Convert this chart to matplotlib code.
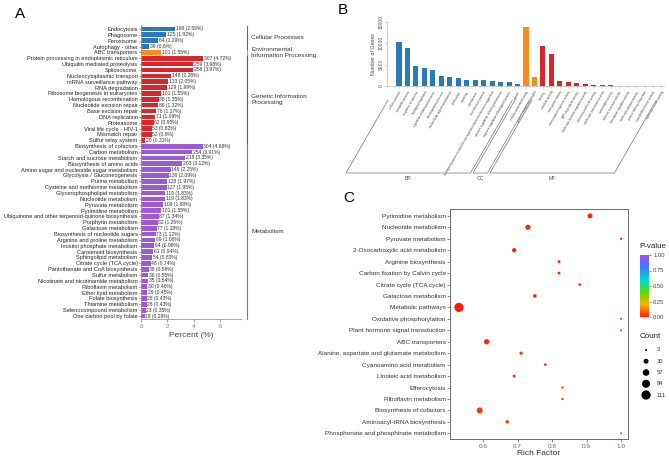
import numpy as np
import matplotlib
matplotlib.use("Agg")
import matplotlib.pyplot as plt
from matplotlib.colors import LinearSegmentedColormap, Normalize
from matplotlib.lines import Line2D

plt.rcParams['font.family'] = ['Liberation Sans', 'DejaVu Sans']

# ---------------- panel A data (KEGG classification) ----------------
kegg_terms = [
    "Endocytosis", "Phagosome", "Peroxisome", "Autophagy - other",
    "ABC transporters",
    "Protein processing in endoplasmic reticulum", "Ubiquitin mediated proteolysis",
    "Spliceosome", "Nucleocytoplasmic transport", "mRNA surveillance pathway",
    "RNA degradation", "Ribosome biogenesis in eukaryotes", "Homologous recombination",
    "Nucleotide excision repair", "Base excision repair", "DNA replication",
    "Proteasome", "Viral life cycle - HIV-1", "Mismatch repair", "Sulfur relay system",
    "Biosynthesis of cofactors", "Carbon metabolism", "Starch and sucrose metabolism",
    "Biosynthesis of amino acids", "Amino sugar and nucleotide sugar metabolism",
    "Glycolysis / Gluconeogenesis", "Purine metabolism",
    "Cysteine and methionine metabolism", "Glycerophospholipid metabolism",
    "Nucleotide metabolism", "Pyruvate metabolism", "Pyrimidine metabolism",
    "Ubiquinone and other terpenoid-quinone biosynthesis", "Porphyrin metabolism",
    "Galactose metabolism", "Biosynthesis of nucleotide sugars",
    "Arginine and proline metabolism", "Inositol phosphate metabolism",
    "Carotenoid biosynthesis", "Sphingolipid metabolism", "Citrate cycle (TCA cycle)",
    "Pantothenate and CoA biosynthesis", "Sulfur metabolism",
    "Nicotinate and nicotinamide metabolism", "Riboflavin metabolism",
    "Ether lipid metabolism", "Folate biosynthesis", "Thiamine metabolism",
    "Selenocompound metabolism", "One carbon pool by folate",
]
kegg_counts = [168, 125, 84, 39, 101, 307, 259, 258, 148, 133, 129, 101, 88, 86, 76,
               71, 62, 53, 52, 20, 304, 254, 218, 203, 146, 136, 128, 127, 119, 119,
               109, 101, 87, 82, 77, 73, 69, 64, 61, 54, 48, 38, 36, 35, 30, 29, 28,
               28, 23, 18]
kegg_pct = ["2.59", "1.92", "1.29", "0.6", "1.55", "4.72", "3.98", "3.97", "2.28",
            "2.05", "1.99", "1.55", "1.35", "1.32", "1.17", "1.09", "0.95", "0.82",
            "0.8", "0.31", "4.68", "3.91", "3.35", "3.12", "2.25", "2.09", "1.97",
            "1.95", "1.83", "1.83", "1.68", "1.55", "1.34", "1.26", "1.18", "1.12",
            "1.06", "0.98", "0.94", "0.83", "0.74", "0.58", "0.55", "0.54", "0.46",
            "0.45", "0.43", "0.43", "0.35", "0.28"]
kegg_classes = ["Cellular Processes", "Environmental\nInformation Processing",
                "Genetic Information\nProcessing", "Metabolism"]
class_sizes = [4, 1, 15, 30]
class_colors = ["#2a7ab9", "#ff8c1a", "#d9262b", "#9a5bd3"]

# ---------------- panel B data (GO classification) ----------------
go_terms = [
    "cellular process", "metabolic process", "response to stimulus",
    "biological regulation", "regulation of biological process",
    "developmental process", "multicellular organismal process", "localization",
    "signaling", "reproduction", "reproductive process",
    "biological process involved in interspecies interaction between organisms",
    "positive regulation of biological process",
    "negative regulation of biological process", "growth",
    "cellular anatomical entity", "protein-containing complex",
    "binding", "catalytic activity", "transporter activity",
    "transcription regulator activity", "ATP-dependent activity",
    "molecular function regulator activity", "structural molecule activity",
    "molecular transducer activity", "antioxidant activity",
    "nutrient reservoir activity", "translation regulator activity",
    "molecular adaptor activity", "protein folding chaperone",
    "cytoskeletal motor activity", "molecular carrier activity",
]
go_counts = [10400, 8900, 4770, 4140, 3830, 2340, 2030, 1950, 1480, 1330, 1330, 1250,
             1020, 940, 550,
             13750, 2190,
             9450, 7500, 1090, 940, 700, 470, 310, 230, 160, 100, 90, 60, 40, 30, 20]
go_groups = ["BP", "CC", "MF"]
go_group_sizes = [15, 2, 15]
go_colors = ["#2a7ab9", "#ff8c1a", "#d9262b"]

# ---------------- panel C data (KEGG enrichment) ----------------
enr_terms = [
    "Pyrimidine metabolism", "Nucleotide metabolism", "Pyruvate metabolism",
    "2-Oxocarboxylic acid metabolism", "Arginine biosynthesis",
    "Carbon fixation by Calvin cycle", "Citrate cycle (TCA cycle)",
    "Galactose metabolism", "Metabolic pathways", "Oxidative phosphorylation",
    "Plant hormone signal transduction", "ABC transporters",
    "Alanine, aspartate and glutamate metabolism", "Cyanoamino acid metabolism",
    "Linoleic acid metabolism", "Efferocytosis", "Riboflavin metabolism",
    "Biosynthesis of cofactors", "Aminoacyl-tRNA biosynthesis",
    "Phosphonate and phosphinate metabolism",
]
enr_rich = [0.91, 0.73, 1.0, 0.69, 0.82, 0.82, 0.88, 0.75, 0.53, 1.0, 1.0, 0.61,
            0.71, 0.78, 0.69, 0.83, 0.83, 0.59, 0.67, 1.0]
enr_count = [30, 32, 5, 22, 9, 9, 7, 15, 111, 3, 3, 35, 12, 7, 9, 5, 5, 45, 14, 3]
enr_pvalue = [0.01, 0.01, 0.02, 0.005, 0.01, 0.01, 0.02, 0.01, 0.0, 0.03, 0.03, 0.02,
              0.04, 0.04, 0.04, 0.05, 0.05, 0.04, 0.05, 0.05]
count_breaks = [3, 30, 57, 84, 111]
p_breaks = [0.0, 0.25, 0.5, 0.75, 1.0]

W, H = 669, 458
fig = plt.figure(figsize=(W / 100, H / 100), dpi=100)


def fbox(x0, y0, x1, y1):
    # pixel box (top-left origin) -> figure fraction rect
    return [x0 / W, 1 - y1 / H, (x1 - x0) / W, (y1 - y0) / H]


# ================= A =================
axA = fig.add_axes(fbox(141, 25, 241, 319))
bar_cols = []
for c, n in zip(class_colors, class_sizes):
    bar_cols += [c] * n
ypos = np.arange(len(kegg_terms))
pct_vals = [float(p) for p in kegg_pct]
axA.barh(ypos, pct_vals, height=0.8, color=bar_cols)
for y, v, n, p in zip(ypos, pct_vals, kegg_counts, kegg_pct):
    axA.text(v + 0.05, y, f"{n} ({p}%)", va="center", ha="left", fontsize=3.6,
             color="#333333")
axA.set_yticks(ypos)
axA.set_yticklabels(kegg_terms, fontsize=4.1)
axA.set_ylim(49.5, -0.68)
axA.set_xlim(0, 7.6)
axA.set_xticks([0, 2, 4, 6])
axA.tick_params(axis="x", labelsize=4.4, colors="#777777", length=2, width=0.5, pad=1.5)
axA.tick_params(axis="y", length=1.5, width=0.4, pad=1, colors="#555555")
for lab in axA.get_yticklabels():
    lab.set_color("#222222")
axA.set_xlabel("Percent (%)", fontsize=6, color="#444444", labelpad=2)
for s in ["top", "right"]:
    axA.spines[s].set_visible(False)
for s in ["left", "bottom"]:
    axA.spines[s].set_color("#999999")
    axA.spines[s].set_linewidth(0.6)
trA = axA.get_yaxis_transform()
start = 0
for name, n, c in zip(kegg_classes, class_sizes, class_colors):
    axA.plot([1.06, 1.06], [start - 0.45, start + n - 0.55], color=c, lw=0.8,
             transform=trA, clip_on=False)
    axA.text(1.1, start + (n - 1) / 2, name, transform=trA, fontsize=4.6,
             va="center", ha="left", color="#333333", linespacing=1.3)
    start += n
fig.text(15 / W, 1 - 14 / H, "A", fontsize=11, ha="left", va="center")

# ================= B =================
axB = fig.add_axes(fbox(387, 22, 664, 86))
xb = np.arange(len(go_terms))
b_cols = []
for c, n in zip(go_colors, go_group_sizes):
    b_cols += [c] * n
axB.bar(xb, go_counts, width=0.6, color=b_cols)
axB.set_xlim(-1.42, len(go_terms) - 0.7)
axB.set_ylim(0, 15000)
axB.set_yticks([0, 5000, 10000, 15000])
axB.set_yticklabels(["0", "5000", "10000", "15000"], rotation=90, va="center",
                    fontsize=3.6)
axB.set_ylabel("Number of Genes", fontsize=3.8, color="#444444", labelpad=2)
axB.set_xticks(xb)
axB.set_xticklabels(go_terms, rotation=60, ha="right", rotation_mode="anchor",
                    fontsize=2.1)
axB.tick_params(axis="x", length=1.5, width=0.4, colors="#aaaaaa", pad=1.5)
for lab in axB.get_xticklabels():
    lab.set_color("#444444")
axB.tick_params(axis="y", length=1.5, width=0.4, colors="#aaaaaa", pad=1)
for lab in axB.get_yticklabels():
    lab.set_color("#555555")
for s in ["top", "right"]:
    axB.spines[s].set_visible(False)
for s in ["left", "bottom"]:
    axB.spines[s].set_color("#bbbbbb")
    axB.spines[s].set_linewidth(0.5)

# group brackets, slanted along the tick labels
fig.canvas.draw()
drop, shift, gap = 87, 50, 14
start = 0
for g, n in zip(go_groups, go_group_sizes):
    x0 = axB.transData.transform((start, 0))[0]
    x1 = axB.transData.transform((start + n - 1, 0))[0]
    ybase = axB.transData.transform((0, 0))[1]
    top_y = ybase - gap
    bot_y = ybase - drop
    k = shift / drop
    xs = [x0 - gap * k - 3, x0 - shift - 3, x1 - shift + 3, x1 - gap * k + 3]
    ys = [top_y, bot_y, bot_y, top_y]
    fig.add_artist(Line2D([x / W for x in xs], [y / H for y in ys], color="#777777",
                          lw=0.5))
    fig.text(((x0 + x1) / 2 - shift) / W, (bot_y - 5) / H, g, fontsize=3.8,
             ha="center", va="center", color="#555555")
    start += n
fig.text(338 / W, 1 - 10 / H, "B", fontsize=11, ha="left", va="center")

# ================= C =================
axC = fig.add_axes(fbox(450, 209, 628, 439))
cmap = LinearSegmentedColormap.from_list(
    "pv", ["#ff1a00", "#ffb000", "#55e000", "#00d8d8", "#3a7bff", "#a64dff"])
norm = Normalize(0, 1)


def dot_size(c):
    return 2 + (np.asarray(c) - 3) / 108 * 42


yc = np.arange(len(enr_terms))
axC.scatter(enr_rich, yc, s=dot_size(enr_count), c=enr_pvalue, cmap=cmap, norm=norm,
            edgecolors="none", zorder=3)
axC.set_yticks(yc)
axC.set_yticklabels(enr_terms, fontsize=4.6)
axC.set_ylim(19.5, -0.6)
axC.set_xlim(0.504, 1.02)
axC.set_xticks([0.6, 0.7, 0.8, 0.9, 1.0])
axC.set_xticklabels(["0.6", "0.7", "0.8", "0.9", "1.0"])
axC.tick_params(axis="x", labelsize=4.6, colors="#666666", length=2, width=0.5, pad=1.5)
axC.tick_params(axis="y", length=2, width=0.5, colors="#666666", pad=1)
for lab in axC.get_yticklabels():
    lab.set_color("#333333")
axC.set_xlabel("Rich Factor", fontsize=6, color="#333333", labelpad=1)
for s in axC.spines.values():
    s.set_color("#555555")
    s.set_linewidth(0.6)
fig.text(343 / W, 1 - 198 / H, "C", fontsize=11, ha="left", va="center")

# colour bar for P-value
cax = fig.add_axes(fbox(640, 255, 649, 317))
cb = fig.colorbar(plt.cm.ScalarMappable(norm=norm, cmap=cmap), cax=cax)
cb.set_ticks(p_breaks)
cb.set_ticklabels([f"{p:.2f}" for p in p_breaks])
cb.ax.tick_params(labelsize=4.2, length=1.5, width=0.4, colors="#444444", pad=1.5)
cb.outline.set_visible(False)
fig.text(639 / W, 1 - 246 / H, "P-value", fontsize=5.8, ha="left", va="center",
         color="#222222")

# size legend for Count
fig.text(640 / W, 1 - 336 / H, "Count", fontsize=5.8, ha="left", va="center",
         color="#222222")
lax = fig.add_axes(fbox(638, 344, 669, 401))
ly = np.arange(len(count_breaks))
lax.scatter(np.full(len(ly), 0.26), ly, s=dot_size(count_breaks), color="black",
            edgecolors="none")
for y, c in zip(ly, count_breaks):
    lax.text(0.6, y, str(c), fontsize=4.2, va="center", ha="left", color="#333333")
lax.set_xlim(0, 1)
lax.set_ylim(4.53, -0.53)
lax.axis("off")

fig.savefig("out.png", dpi=100)
